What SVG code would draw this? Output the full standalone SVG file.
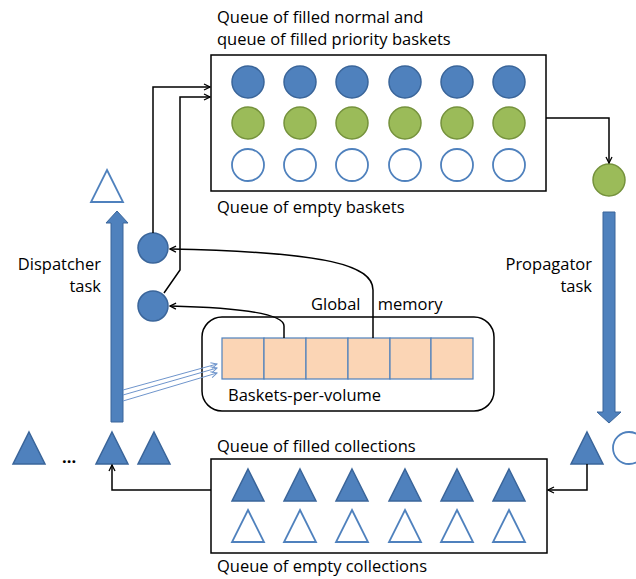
<svg xmlns="http://www.w3.org/2000/svg" width="636" height="579" viewBox="0 0 636 579">
<style>
text{font-family:"Open Sans","Noto Sans",sans-serif;font-size:16.5px;fill:#000}
.r{text-anchor:end}
.fb{fill:#4F81BD;stroke:#3A659A;stroke-width:1.5}
.fg{fill:#9BBB59;stroke:#75923C;stroke-width:1.5}
.em{fill:#fff;stroke:#4F81BD;stroke-width:1.8}
.box{fill:#fff;stroke:#000;stroke-width:1.5}
.cell{fill:#FBD5B5;stroke:#4F81BD;stroke-width:1.2}
.con{fill:none;stroke:#000;stroke-width:1.5;marker-end:url(#ah)}
.thin{fill:none;stroke:#6F95CC;stroke-width:1;marker-end:url(#ahb)}
.big{fill:#4F81BD;stroke:#3A659A;stroke-width:1}
</style>
<defs>
<marker id="ah" markerWidth="8" markerHeight="8" refX="7" refY="4" orient="auto" markerUnits="userSpaceOnUse">
<path d="M1,1 L7,4 L1,7" fill="none" stroke="#000" stroke-width="1.3"/>
</marker>
<marker id="ahb" markerWidth="8" markerHeight="8" refX="7" refY="4" orient="auto" markerUnits="userSpaceOnUse">
<path d="M1,1 L7,4 L1,7" fill="none" stroke="#6F95CC" stroke-width="1"/>
</marker>
<circle id="cb" r="16" class="fb"/>
<circle id="cg" r="16" class="fg"/>
<circle id="ce" r="16" class="em"/>
<path id="tf" d="M0,-16 L16,16 L-16,16 Z" class="fb"/>
<path id="te" d="M0,-16 L16,16 L-16,16 Z" class="em"/>
</defs>

<g id="basket-queues">
<rect class="box" x="211" y="55" width="335" height="136"/>
<use href="#cb" x="248" y="82"/><use href="#cb" x="300" y="82"/><use href="#cb" x="352" y="82"/><use href="#cb" x="405" y="82"/><use href="#cb" x="457" y="82"/><use href="#cb" x="509" y="82"/>
<use href="#cg" x="248" y="123"/><use href="#cg" x="300" y="123"/><use href="#cg" x="352" y="123"/><use href="#cg" x="405" y="123"/><use href="#cg" x="457" y="123"/><use href="#cg" x="509" y="123"/>
<use href="#ce" x="248" y="165"/><use href="#ce" x="300" y="165"/><use href="#ce" x="352" y="165"/><use href="#ce" x="405" y="165"/><use href="#ce" x="457" y="165"/><use href="#ce" x="509" y="165"/>
<text x="217" y="23">Queue of filled normal and</text>
<text x="217" y="45">queue of filled priority baskets</text>
<text x="217" y="213">Queue of empty baskets</text>
</g>

<g id="global-memory">
<rect x="202" y="317" width="292" height="94" rx="20" ry="20" fill="#fff" stroke="#000" stroke-width="1.5"/>
<rect class="cell" x="222" y="338" width="42" height="41"/>
<rect class="cell" x="264" y="338" width="42" height="41"/>
<rect class="cell" x="306" y="338" width="42" height="41"/>
<rect class="cell" x="348" y="338" width="42" height="41"/>
<rect class="cell" x="390" y="338" width="41" height="41"/>
<rect class="cell" x="431" y="338" width="42" height="41"/>
<text x="311" y="310" word-spacing="13">Global memory</text>
<text x="228" y="401">Baskets-per-volume</text>
</g>

<g id="dispatcher">
<use href="#te" x="107" y="186"/>
<path class="big" d="M111,422 V223 H106 L117,211 L128,223 H123 V422 Z"/>
<circle class="fb" cx="153" cy="248" r="15"/>
<circle class="fb" cx="153" cy="306" r="15"/>
<text class="r" x="101" y="270">Dispatcher</text>
<text class="r" x="101" y="292">task</text>
</g>

<g id="propagator">
<circle class="fg" cx="609" cy="180" r="16"/>
<path class="big" d="M603,212 H615 V412 H621 L609,423 L597,412 H603 Z"/>
<text class="r" x="592" y="270">Propagator</text>
<text class="r" x="592" y="292">task</text>
<use href="#tf" x="587" y="448"/>
<circle class="em" cx="629" cy="448" r="16"/>
</g>

<g id="collection-queues">
<rect class="box" x="211" y="459" width="336" height="94"/>
<use href="#tf" x="248" y="485"/><use href="#tf" x="300" y="485"/><use href="#tf" x="352" y="485"/><use href="#tf" x="405" y="485"/><use href="#tf" x="457" y="485"/><use href="#tf" x="509" y="485"/>
<use href="#te" x="248" y="526"/><use href="#te" x="300" y="526"/><use href="#te" x="352" y="526"/><use href="#te" x="405" y="526"/><use href="#te" x="457" y="526"/><use href="#te" x="509" y="526"/>
<text x="217" y="452">Queue of filled collections</text>
<text x="217" y="572">Queue of empty collections</text>
</g>

<g id="ready-collections">
<use href="#tf" x="29" y="448"/>
<text x="62" y="463" font-weight="bold">...</text>
<use href="#tf" x="112" y="448"/>
<use href="#tf" x="154" y="448"/>
</g>

<g id="connectors">
<path class="con" d="M153,233 V87 H210"/>
<path class="con" d="M164,293 L180,270 V97 H210"/>
<path class="con" d="M546,118 H609 V163"/>
<path class="con" d="M373,338 V290 C373,266 330,252 170,249"/>
<path class="con" d="M284,338 V326 C284,315 250,308 170,306"/>
<path class="con" d="M587,464 V490 H548"/>
<path class="con" d="M211,490 H112 V465"/>
<path class="thin" d="M123,390 L217,364"/>
<path class="thin" d="M123,395 L217,368"/>
<path class="thin" d="M123,401 L217,373"/>
</g>
</svg>
